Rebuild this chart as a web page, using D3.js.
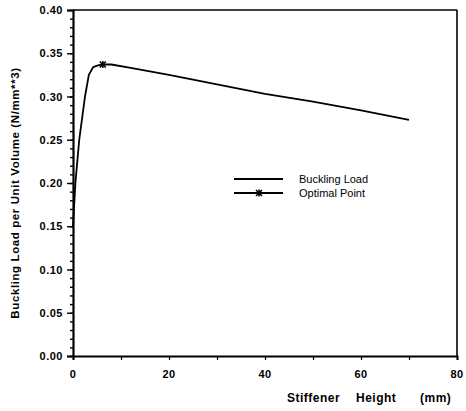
<!DOCTYPE html>
<html>
<head>
<meta charset="utf-8">
<script src="https://cdn.jsdelivr.net/npm/d3@7"></script>
<style>
  body { margin: 0; background: #fff; }
  svg { display: block; font-family: "Liberation Sans", Arial, sans-serif; }
</style>
</head>
<body>
<svg id="chart"></svg>
<script>
// curve
const heights = [0, 0.5, 1.3, 2.5, 3.3, 4.2, 5.2, 6.2, 8.0, 12, 20, 30, 40, 50, 60, 70];
const loads   = [0.150, 0.200, 0.250, 0.300, 0.325, 0.334, 0.336, 0.337, 0.337, 0.333, 0.325, 0.314, 0.303, 0.294, 0.284, 0.273];
const optimal = [{ x: 6.2, y: 0.337 }];
const xTicks = [0, 20, 40, 60, 80];
const yTicks = [0, 0.05, 0.10, 0.15, 0.20, 0.25, 0.30, 0.35, 0.40];
const legendNames = ["Buckling Load", "Optimal Point"];
const xLabelWords = [["Stiffener", 287], ["Height", 356], ["(mm)", 420]];

const width = 466, height = 411;
const svg = d3.select("#chart").attr("width", width).attr("height", height);

const x = d3.scaleLinear().domain([0, 80]).range([73, 457]);
const y = d3.scaleLinear().domain([0, 0.4]).range([356, 10]);

// frame top and right
svg.append("line").attr("x1", x(0)).attr("x2", x(80)).attr("y1", y(0.4)).attr("y2", y(0.4))
  .attr("stroke", "#000").attr("stroke-width", 1.6);
svg.append("line").attr("x1", x(80)).attr("x2", x(80)).attr("y1", y(0.4)).attr("y2", y(0))
  .attr("stroke", "#000").attr("stroke-width", 1.6);

// x axis
const xAxis = svg.append("g").attr("transform", `translate(0,${y(0)})`);
xAxis.call(d3.axisBottom(x).tickValues(d3.range(0, 81, 10)).tickSize(4).tickFormat(""));
xAxis.select(".domain").attr("stroke-width", 2);
xAxis.selectAll(".tick line").attr("stroke-width", 1.2);
xAxis.selectAll(".lbl").data(xTicks).enter().append("text")
  .attr("x", d => x(d)).attr("y", 22)
  .attr("text-anchor", "middle").attr("font-size", 11).attr("font-weight", "bold")
  .attr("letter-spacing", 0.5).attr("fill", "#000").text(d => d);

// y axis, minor ticks
const yAxisMinor = svg.append("g").attr("transform", `translate(${x(0)},0)`);
yAxisMinor.call(d3.axisLeft(y).tickValues(d3.range(0, 41).map(d => d / 100)).tickSize(3).tickFormat(""));
yAxisMinor.selectAll(".tick line").attr("stroke-width", 1.4).attr("x2", -3).attr("x1", 1);
yAxisMinor.select(".domain").remove();

const yAxis = svg.append("g").attr("transform", `translate(${x(0)},0)`);
yAxis.call(d3.axisLeft(y).tickValues(yTicks).tickSize(6).tickPadding(4).tickFormat(d3.format(".2f")));
yAxis.select(".domain").attr("stroke-width", 2.2);
yAxis.selectAll(".tick line").attr("stroke-width", 1.4);
yAxis.selectAll("text").attr("font-size", 11).attr("font-weight", "bold").attr("letter-spacing", 0.5)
  .attr("font-family", "'Liberation Sans', Arial, sans-serif").attr("fill", "#000");

// curve
const line = d3.line().x(d => x(d[0])).y(d => y(d[1]));
svg.append("path").datum(heights.map((h, i) => [h, loads[i]]))
  .attr("d", line).attr("fill", "none").attr("stroke", "#000").attr("stroke-width", 1.8)
  .attr("stroke-linejoin", "round");

// optimal point marker
function star(g) {
  g.append("path").attr("d", "M-3,-3L3,3M-3,3L3,-3M0,-3.5L0,3.5")
    .attr("stroke", "#000").attr("stroke-width", 1.6);
}
svg.selectAll(".opt").data(optimal).enter().append("g")
  .attr("transform", d => `translate(${x(d.x)},${y(d.y)})`).call(star);

// labels
svg.append("text").attr("transform", `translate(19,${(y(0) + y(0.4)) / 2 + 10}) rotate(-90)`)
  .attr("text-anchor", "middle").attr("font-size", 11.5).attr("font-weight", "bold")
  .attr("letter-spacing", 0.6)
  .text("Buckling Load per Unit Volume (N/mm**3)");
svg.selectAll(".xl").data(xLabelWords).enter().append("text")
  .attr("x", d => d[1]).attr("y", 402).attr("font-size", 12).attr("font-weight", "bold")
  .attr("letter-spacing", 0.5).text(d => d[0]);

// legend
const legend = svg.append("g").attr("transform", "translate(234,179)");
legendNames.forEach((name, i) => {
  const row = legend.append("g").attr("transform", `translate(0,${i * 14})`);
  row.append("line").attr("x1", 0).attr("x2", 49).attr("stroke", "#000").attr("stroke-width", 1.8);
  if (i === 1) row.append("g").attr("transform", "translate(25,0)").call(star);
  row.append("text").attr("x", 65).attr("y", 4).attr("font-size", 11).text(name);
});
</script>
</body>
</html>
